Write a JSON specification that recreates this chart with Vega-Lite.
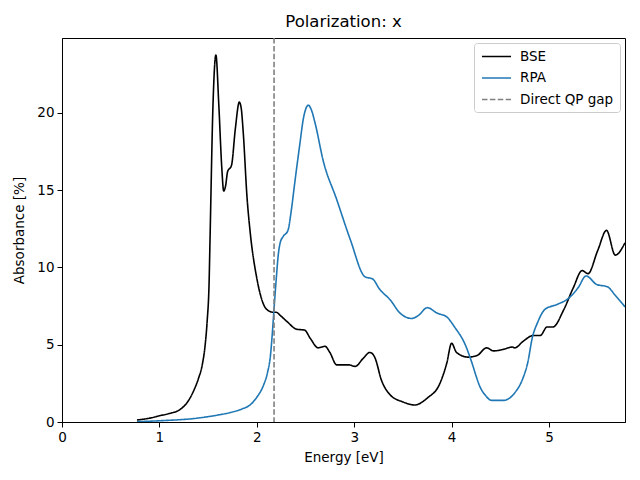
{
  "$schema": "https://vega.github.io/schema/vega-lite/v6.json",
  "autosize": {"type": "none"},
  "width": 563,
  "height": 384,
  "padding": {"left": 62, "top": 38, "right": 15, "bottom": 58},
  "title": {"text": "Polarization: x", "font": "DejaVu Sans", "fontSize": 16.5, "fontWeight": "normal", "color": "black", "offset": 7},
  "config": {
    "view": {"stroke": "black", "strokeWidth": 1},
    "axis": {
      "labelFont": "DejaVu Sans", "labelFontSize": 13.5, "labelColor": "black",
      "titleFont": "DejaVu Sans", "titleFontSize": 13.5, "titleFontWeight": "normal", "titleColor": "black",
      "domainColor": "black", "tickColor": "black", "tickSize": 5, "labelPadding": 3,
      "grid": false, "labelFlush": false
    },
    "legend": {
      "labelFont": "DejaVu Sans", "labelFontSize": 13.5, "labelColor": "black"
    }
  },
  "datasets": {
    "curves": [
      {"series": "BSE", "energy": 0.77, "abs": 0.13},
      {"series": "BSE", "energy": 0.9, "abs": 0.25},
      {"series": "BSE", "energy": 1.0, "abs": 0.4},
      {"series": "BSE", "energy": 1.1, "abs": 0.55},
      {"series": "BSE", "energy": 1.21, "abs": 0.8},
      {"series": "BSE", "energy": 1.3, "abs": 1.4},
      {"series": "BSE", "energy": 1.35, "abs": 2.0},
      {"series": "BSE", "energy": 1.4, "abs": 2.8},
      {"series": "BSE", "energy": 1.44, "abs": 3.7},
      {"series": "BSE", "energy": 1.47, "abs": 5.0},
      {"series": "BSE", "energy": 1.49, "abs": 6.5},
      {"series": "BSE", "energy": 1.51, "abs": 9.0},
      {"series": "BSE", "energy": 1.52, "abs": 11.9},
      {"series": "BSE", "energy": 1.55, "abs": 20.5},
      {"series": "BSE", "energy": 1.58, "abs": 23.75},
      {"series": "BSE", "energy": 1.61, "abs": 20.5},
      {"series": "BSE", "energy": 1.64, "abs": 16.5},
      {"series": "BSE", "energy": 1.66, "abs": 14.95},
      {"series": "BSE", "energy": 1.68, "abs": 15.3},
      {"series": "BSE", "energy": 1.7, "abs": 16.2},
      {"series": "BSE", "energy": 1.74, "abs": 16.6},
      {"series": "BSE", "energy": 1.78, "abs": 19.0},
      {"series": "BSE", "energy": 1.82, "abs": 20.7},
      {"series": "BSE", "energy": 1.84, "abs": 20.3},
      {"series": "BSE", "energy": 1.86, "abs": 18.8},
      {"series": "BSE", "energy": 1.9, "abs": 14.5},
      {"series": "BSE", "energy": 1.93, "abs": 12.4},
      {"series": "BSE", "energy": 2.0, "abs": 9.3},
      {"series": "BSE", "energy": 2.07, "abs": 7.6},
      {"series": "BSE", "energy": 2.12, "abs": 7.2},
      {"series": "BSE", "energy": 2.17, "abs": 7.1},
      {"series": "BSE", "energy": 2.2, "abs": 7.1},
      {"series": "BSE", "energy": 2.24, "abs": 6.9},
      {"series": "BSE", "energy": 2.31, "abs": 6.5},
      {"series": "BSE", "energy": 2.41, "abs": 6.0},
      {"series": "BSE", "energy": 2.49, "abs": 5.95},
      {"series": "BSE", "energy": 2.55, "abs": 5.4},
      {"series": "BSE", "energy": 2.63, "abs": 4.8},
      {"series": "BSE", "energy": 2.7, "abs": 4.9},
      {"series": "BSE", "energy": 2.75, "abs": 4.5},
      {"series": "BSE", "energy": 2.82, "abs": 3.7},
      {"series": "BSE", "energy": 2.94, "abs": 3.7},
      {"series": "BSE", "energy": 3.01, "abs": 3.6},
      {"series": "BSE", "energy": 3.09, "abs": 4.1},
      {"series": "BSE", "energy": 3.16, "abs": 4.5},
      {"series": "BSE", "energy": 3.21, "abs": 4.2},
      {"series": "BSE", "energy": 3.28, "abs": 2.7},
      {"series": "BSE", "energy": 3.37, "abs": 1.75},
      {"series": "BSE", "energy": 3.5, "abs": 1.3},
      {"series": "BSE", "energy": 3.62, "abs": 1.1},
      {"series": "BSE", "energy": 3.75, "abs": 1.55},
      {"series": "BSE", "energy": 3.88, "abs": 2.5},
      {"series": "BSE", "energy": 3.95, "abs": 3.8},
      {"series": "BSE", "energy": 4.0, "abs": 5.1},
      {"series": "BSE", "energy": 4.05, "abs": 4.5},
      {"series": "BSE", "energy": 4.17, "abs": 4.2},
      {"series": "BSE", "energy": 4.26, "abs": 4.3},
      {"series": "BSE", "energy": 4.36, "abs": 4.8},
      {"series": "BSE", "energy": 4.43, "abs": 4.6},
      {"series": "BSE", "energy": 4.53, "abs": 4.7},
      {"series": "BSE", "energy": 4.62, "abs": 4.85},
      {"series": "BSE", "energy": 4.65, "abs": 4.8},
      {"series": "BSE", "energy": 4.73, "abs": 5.2},
      {"series": "BSE", "energy": 4.84, "abs": 5.6},
      {"series": "BSE", "energy": 4.91, "abs": 5.6},
      {"series": "BSE", "energy": 4.98, "abs": 6.15},
      {"series": "BSE", "energy": 5.04, "abs": 6.15},
      {"series": "BSE", "energy": 5.15, "abs": 7.25},
      {"series": "BSE", "energy": 5.25, "abs": 8.7},
      {"series": "BSE", "energy": 5.34, "abs": 9.8},
      {"series": "BSE", "energy": 5.4, "abs": 9.6},
      {"series": "BSE", "energy": 5.5, "abs": 11.1},
      {"series": "BSE", "energy": 5.59, "abs": 12.4},
      {"series": "BSE", "energy": 5.68, "abs": 10.8},
      {"series": "BSE", "energy": 5.78, "abs": 11.6},
      {"series": "RPA", "energy": 0.77, "abs": 0.02},
      {"series": "RPA", "energy": 1.0, "abs": 0.08},
      {"series": "RPA", "energy": 1.39, "abs": 0.25},
      {"series": "RPA", "energy": 1.6, "abs": 0.45},
      {"series": "RPA", "energy": 1.72, "abs": 0.6},
      {"series": "RPA", "energy": 1.85, "abs": 0.85},
      {"series": "RPA", "energy": 1.93, "abs": 1.1},
      {"series": "RPA", "energy": 2.0, "abs": 1.6},
      {"series": "RPA", "energy": 2.07, "abs": 2.4},
      {"series": "RPA", "energy": 2.11, "abs": 3.2},
      {"series": "RPA", "energy": 2.14, "abs": 4.3},
      {"series": "RPA", "energy": 2.16, "abs": 5.8},
      {"series": "RPA", "energy": 2.18, "abs": 7.6},
      {"series": "RPA", "energy": 2.2, "abs": 9.3},
      {"series": "RPA", "energy": 2.22, "abs": 10.8},
      {"series": "RPA", "energy": 2.24, "abs": 11.6},
      {"series": "RPA", "energy": 2.27, "abs": 12.0},
      {"series": "RPA", "energy": 2.32, "abs": 12.4},
      {"series": "RPA", "energy": 2.35, "abs": 13.5},
      {"series": "RPA", "energy": 2.39, "abs": 15.5},
      {"series": "RPA", "energy": 2.44, "abs": 17.9},
      {"series": "RPA", "energy": 2.48, "abs": 19.7},
      {"series": "RPA", "energy": 2.53, "abs": 20.5},
      {"series": "RPA", "energy": 2.56, "abs": 20.2},
      {"series": "RPA", "energy": 2.6, "abs": 19.3},
      {"series": "RPA", "energy": 2.68, "abs": 16.95},
      {"series": "RPA", "energy": 2.82, "abs": 14.4},
      {"series": "RPA", "energy": 2.96, "abs": 11.8},
      {"series": "RPA", "energy": 3.11, "abs": 9.4},
      {"series": "RPA", "energy": 3.19, "abs": 9.25},
      {"series": "RPA", "energy": 3.26, "abs": 8.6},
      {"series": "RPA", "energy": 3.37, "abs": 7.9},
      {"series": "RPA", "energy": 3.47, "abs": 7.05},
      {"series": "RPA", "energy": 3.59, "abs": 6.7},
      {"series": "RPA", "energy": 3.66, "abs": 6.9},
      {"series": "RPA", "energy": 3.75, "abs": 7.4},
      {"series": "RPA", "energy": 3.85, "abs": 7.05},
      {"series": "RPA", "energy": 3.95, "abs": 6.8},
      {"series": "RPA", "energy": 4.03, "abs": 6.15},
      {"series": "RPA", "energy": 4.14, "abs": 5.0},
      {"series": "RPA", "energy": 4.21, "abs": 3.8},
      {"series": "RPA", "energy": 4.25, "abs": 3.0},
      {"series": "RPA", "energy": 4.29, "abs": 2.3},
      {"series": "RPA", "energy": 4.35, "abs": 1.7},
      {"series": "RPA", "energy": 4.41, "abs": 1.4},
      {"series": "RPA", "energy": 4.53, "abs": 1.4},
      {"series": "RPA", "energy": 4.65, "abs": 1.9},
      {"series": "RPA", "energy": 4.73, "abs": 2.8},
      {"series": "RPA", "energy": 4.78, "abs": 3.8},
      {"series": "RPA", "energy": 4.83, "abs": 5.5},
      {"series": "RPA", "energy": 4.88, "abs": 6.4},
      {"series": "RPA", "energy": 4.96, "abs": 7.3},
      {"series": "RPA", "energy": 5.08, "abs": 7.6},
      {"series": "RPA", "energy": 5.2, "abs": 8.0},
      {"series": "RPA", "energy": 5.3, "abs": 8.7},
      {"series": "RPA", "energy": 5.38, "abs": 9.45},
      {"series": "RPA", "energy": 5.49, "abs": 8.9},
      {"series": "RPA", "energy": 5.6, "abs": 8.75},
      {"series": "RPA", "energy": 5.68, "abs": 8.2},
      {"series": "RPA", "energy": 5.78, "abs": 7.45}
    ],
    "gap": [
      {"series": "Direct QP gap", "energy": 2.177}
    ]
  },
  "layer": [
    {
      "data": {"name": "curves"},
      "mark": {"type": "line", "strokeWidth": 1.6, "interpolate": "monotone", "clip": true},
      "encoding": {
        "x": {"field": "energy", "type": "quantitative", "scale": {"domain": [0, 5.78], "nice": false, "zero": false}, "axis": {"title": "Energy [eV]", "values": [0, 1, 2, 3, 4, 5], "format": "d", "titlePadding": 7}},
        "y": {"field": "abs", "type": "quantitative", "scale": {"domain": [0, 24.85], "nice": false}, "axis": {"title": "Absorbance [%]", "values": [0, 5, 10, 15, 20], "format": "d", "titlePadding": 10}},
        "color": {"field": "series", "type": "nominal", "scale": {"domain": ["BSE", "RPA", "Direct QP gap"], "range": ["black", "#1f77b4", "#808080"]}, "legend": {"title": null, "orient": "top-right", "offset": 5, "symbolType": "M-0.85,0L3.62,0", "symbolSize": 169, "symbolStrokeWidth": 1.6, "rowPadding": 7.5, "padding": 6, "strokeColor": "#cccccc", "fillColor": "white", "cornerRadius": 3, "labelOffset": 25}},
        "strokeDash": {"field": "series", "type": "nominal", "scale": {"domain": ["BSE", "RPA", "Direct QP gap"], "range": [[1, 0], [1, 0], [5.5, 2.4]]}, "legend": {"title": null}}
      }
    },
    {
      "data": {"name": "gap"},
      "mark": {"type": "rule", "strokeWidth": 1.6},
      "encoding": {
        "x": {"field": "energy", "type": "quantitative"},
        "color": {"field": "series", "type": "nominal"},
        "strokeDash": {"field": "series", "type": "nominal"}
      }
    }
  ]
}
